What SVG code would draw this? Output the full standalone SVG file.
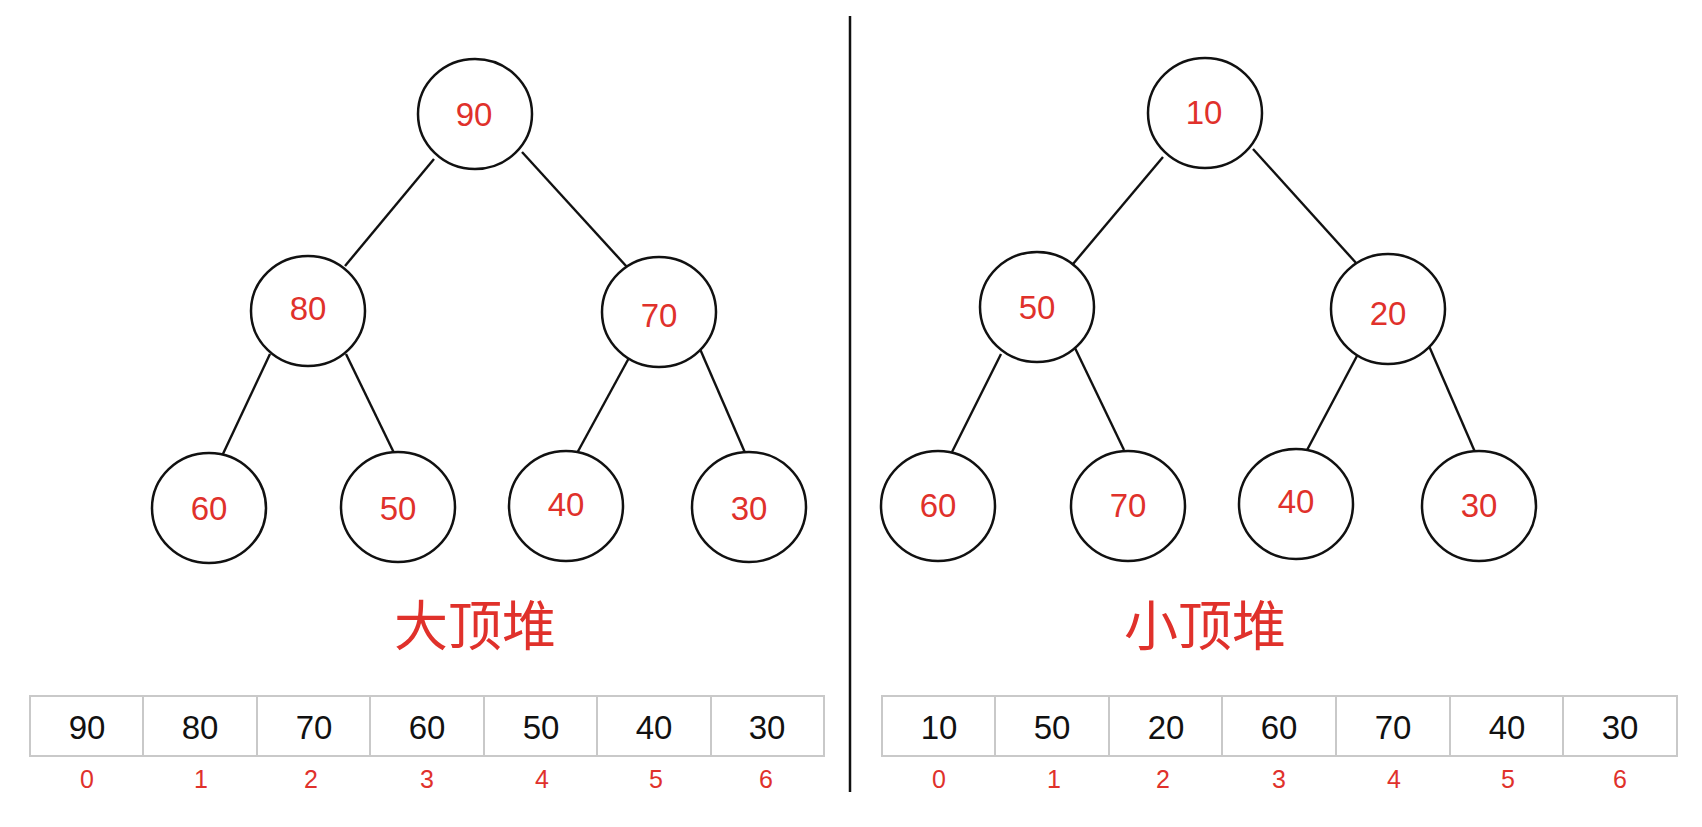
<svg xmlns="http://www.w3.org/2000/svg" width="1702" height="827" viewBox="0 0 1702 827">
<style>
.node ellipse{fill:#fff;stroke:#111;stroke-width:2.5}
.node text{font-family:"Liberation Sans",Arial,sans-serif;font-size:33px;fill:#e0312b;text-anchor:middle}
.edges line{stroke:#111;stroke-width:2.4}
.title{font-family:"Noto Sans CJK SC","Noto Sans",sans-serif;font-size:54px;fill:#e0312b;text-anchor:middle;font-weight:400}
.cell rect{fill:#fff;stroke:#c9c9c9;stroke-width:2}
.cell text{font-family:"Liberation Sans",Arial,sans-serif;font-size:33px;fill:#111;text-anchor:middle}
.idx{font-family:"Liberation Sans",Arial,sans-serif;font-size:25px;fill:#e0312b;text-anchor:middle}
</style>
<rect width="1702" height="827" fill="#fff"/>
<line x1="850" y1="16" x2="850" y2="792" stroke="#111" stroke-width="2.5"/>
<g class="edges" id="edges">
<line x1="434" y1="159" x2="345" y2="266"/>
<line x1="522" y1="152" x2="627" y2="267"/>
<line x1="270" y1="354" x2="222" y2="456"/>
<line x1="346" y1="354" x2="395" y2="455"/>
<line x1="630" y1="356" x2="576" y2="455"/>
<line x1="700" y1="349" x2="746" y2="455"/>
<line x1="1163" y1="157" x2="1073" y2="264"/>
<line x1="1253" y1="149" x2="1357" y2="264"/>
<line x1="1001" y1="354" x2="952" y2="452"/>
<line x1="1075" y1="348" x2="1124" y2="450"/>
<line x1="1358" y1="354" x2="1306" y2="452"/>
<line x1="1429" y1="346" x2="1475" y2="452"/>
</g>
<g class="node" id="L90"><ellipse cx="475" cy="114" rx="57" ry="55"/><text x="474" y="126">90</text></g>
<g class="node" id="L80"><ellipse cx="308" cy="311" rx="57" ry="55"/><text x="308" y="320">80</text></g>
<g class="node" id="L70"><ellipse cx="659" cy="312" rx="57" ry="55"/><text x="659" y="327">70</text></g>
<g class="node" id="L60"><ellipse cx="209" cy="508" rx="57" ry="55"/><text x="209" y="520">60</text></g>
<g class="node" id="L50"><ellipse cx="398" cy="507" rx="57" ry="55"/><text x="398" y="520">50</text></g>
<g class="node" id="L40"><ellipse cx="566" cy="506" rx="57" ry="55"/><text x="566" y="516">40</text></g>
<g class="node" id="L30"><ellipse cx="749" cy="507" rx="57" ry="55"/><text x="749" y="520">30</text></g>
<g class="node" id="R10"><ellipse cx="1205" cy="113" rx="57" ry="55"/><text x="1204" y="124">10</text></g>
<g class="node" id="R50"><ellipse cx="1037" cy="307" rx="57" ry="55"/><text x="1037" y="319">50</text></g>
<g class="node" id="R20"><ellipse cx="1388" cy="309" rx="57" ry="55"/><text x="1388" y="325">20</text></g>
<g class="node" id="R60"><ellipse cx="938" cy="506" rx="57" ry="55"/><text x="938" y="517">60</text></g>
<g class="node" id="R70"><ellipse cx="1128" cy="506" rx="57" ry="55"/><text x="1128" y="517">70</text></g>
<g class="node" id="R40"><ellipse cx="1296" cy="504" rx="57" ry="55"/><text x="1296" y="513">40</text></g>
<g class="node" id="R30"><ellipse cx="1479" cy="506" rx="57" ry="55"/><text x="1479" y="517">30</text></g>
<text class="title" x="475" y="646">大顶堆</text>
<text class="title" x="1205" y="646">小顶堆</text>
<g id="leftArray" class="cell">
<rect x="30" y="696" width="794" height="60"/>
<line x1="143" y1="696" x2="143" y2="756" stroke="#c9c9c9" stroke-width="2"/>
<line x1="257" y1="696" x2="257" y2="756" stroke="#c9c9c9" stroke-width="2"/>
<line x1="370" y1="696" x2="370" y2="756" stroke="#c9c9c9" stroke-width="2"/>
<line x1="484" y1="696" x2="484" y2="756" stroke="#c9c9c9" stroke-width="2"/>
<line x1="597" y1="696" x2="597" y2="756" stroke="#c9c9c9" stroke-width="2"/>
<line x1="711" y1="696" x2="711" y2="756" stroke="#c9c9c9" stroke-width="2"/>
<text x="87" y="739">90</text><text x="200" y="739">80</text><text x="314" y="739">70</text><text x="427" y="739">60</text><text x="541" y="739">50</text><text x="654" y="739">40</text><text x="767" y="739">30</text>
</g>
<g id="leftIdx">
<text class="idx" x="87" y="788">0</text><text class="idx" x="201" y="788">1</text><text class="idx" x="311" y="788">2</text><text class="idx" x="427" y="788">3</text><text class="idx" x="542" y="788">4</text><text class="idx" x="656" y="788">5</text><text class="idx" x="766" y="788">6</text>
</g>
<g id="rightArray" class="cell">
<rect x="882" y="696" width="795" height="60"/>
<line x1="995" y1="696" x2="995" y2="756" stroke="#c9c9c9" stroke-width="2"/>
<line x1="1109" y1="696" x2="1109" y2="756" stroke="#c9c9c9" stroke-width="2"/>
<line x1="1222" y1="696" x2="1222" y2="756" stroke="#c9c9c9" stroke-width="2"/>
<line x1="1336" y1="696" x2="1336" y2="756" stroke="#c9c9c9" stroke-width="2"/>
<line x1="1450" y1="696" x2="1450" y2="756" stroke="#c9c9c9" stroke-width="2"/>
<line x1="1563" y1="696" x2="1563" y2="756" stroke="#c9c9c9" stroke-width="2"/>
<text x="939" y="739">10</text><text x="1052" y="739">50</text><text x="1166" y="739">20</text><text x="1279" y="739">60</text><text x="1393" y="739">70</text><text x="1507" y="739">40</text><text x="1620" y="739">30</text>
</g>
<g id="rightIdx">
<text class="idx" x="939" y="788">0</text><text class="idx" x="1054" y="788">1</text><text class="idx" x="1163" y="788">2</text><text class="idx" x="1279" y="788">3</text><text class="idx" x="1394" y="788">4</text><text class="idx" x="1508" y="788">5</text><text class="idx" x="1620" y="788">6</text>
</g>
</svg>
